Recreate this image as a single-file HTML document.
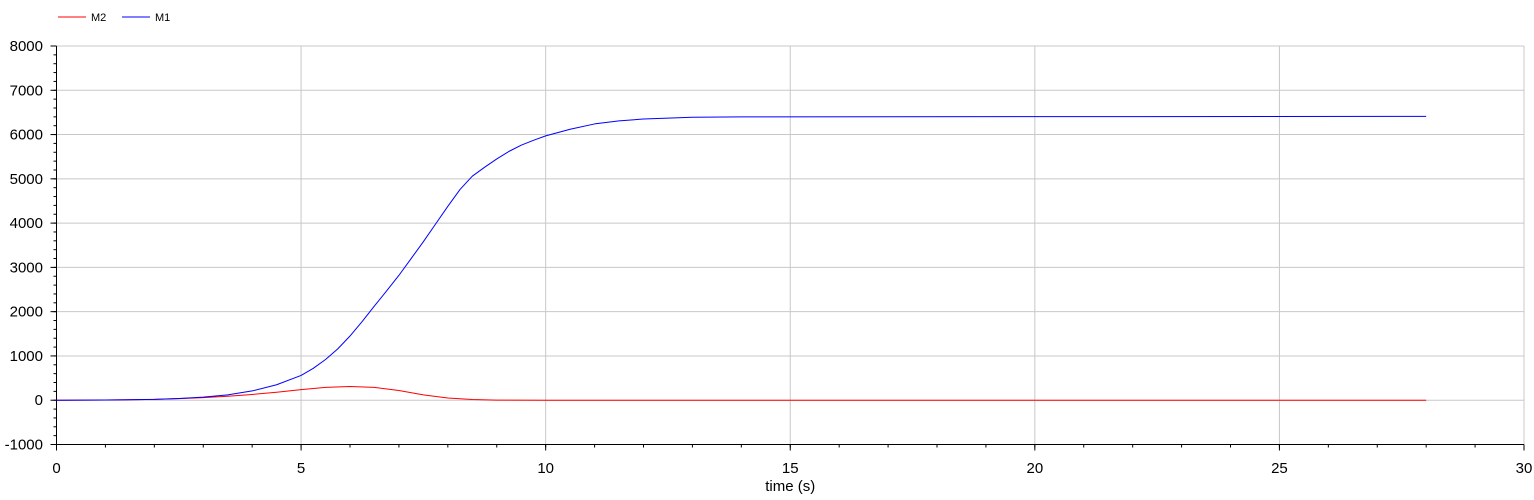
<!DOCTYPE html>
<html><head><meta charset="utf-8"><style>
body{margin:0;background:#fff;width:1534px;height:495px;overflow:hidden;font-family:"Liberation Sans",sans-serif}
svg text{font-family:"Liberation Sans",sans-serif;font-size:15px;fill:#000}
</style></head><body>
<svg id="c" width="1534" height="495"></svg>
<script>
const tM1=[0,1,2,2.5,3,3.5,4,4.5,5,5.25,5.5,5.75,6,6.25,6.5,6.75,7,7.25,7.5,7.75,8,8.25,8.5,8.75,9,9.25,9.5,9.75,10,10.5,11,11.5,12,13,14,28];
const vM1=[0,5,20,40,70,120,210,350,560,720,920,1160,1450,1780,2130,2470,2820,3200,3580,3980,4380,4760,5060,5260,5450,5620,5760,5870,5970,6120,6240,6310,6350,6390,6400,6410];
const tM2=[0,1,2,2.5,3,3.5,4,4.5,5,5.5,6,6.5,7,7.5,8,8.5,9,10,28];
const vM2=[0,5,20,35,60,90,130,180,240,290,310,290,220,120,50,15,3,0,0];
const xTicks=[0,5,10,15,20,25,30];
const yTicks=[-1000,0,1000,2000,3000,4000,5000,6000,7000,8000];
const NS="http://www.w3.org/2000/svg",svg=document.getElementById('c');
const X0=56.5,X1=1524,Y0=444.5,Y1=46;
const xs=t=>X0+(t-0)/30*(X1-X0), ys=v=>Y0-(v+1000)/9000*(Y0-Y1);
function mk(tag,a,p){const e=document.createElementNS(NS,tag);for(const k in a)e.setAttribute(k,a[k]);(p||svg).appendChild(e);return e;}
const grid=mk('g',{});


xTicks.forEach(t=>{if(t>0)mk('line',{x1:xs(t),x2:xs(t),y1:Y1,y2:Y0,stroke:'#c8c8c8'},grid);
 const l=mk('text',{x:xs(t),y:473,'text-anchor':'middle'});l.textContent=t;
 
 
 mk('line',{x1:xs(t),x2:xs(t),y1:Y0,y2:Y0+6,stroke:'#000'});});
for(let t=0;t<=30;t++)mk('line',{x1:xs(t),x2:xs(t),y1:Y0,y2:Y0+3,stroke:'#000'});
yTicks.forEach(v=>{if(v>-1000)mk('line',{x1:X0,x2:X1,y1:ys(v),y2:ys(v),stroke:'#c8c8c8'},grid);
 const l=mk('text',{x:43,y:ys(v)+5,'text-anchor':'end'});l.textContent=v;
 
 
 mk('line',{x1:X0-6,x2:X0,y1:ys(v),y2:ys(v),stroke:'#000'});});
for(let v=-1000;v<=8000;v+=200)mk('line',{x1:X0-3,x2:X0,y1:ys(v),y2:ys(v),stroke:'#000'});
const ax=mk('path',{d:`M${X0},${Y1}V${Y0}H${X1}`,fill:'none',stroke:'#000'});


function line(ts,vs,c,n){const p=mk('polyline',{points:ts.map((t,i)=>xs(t)+','+ys(vs[i])).join(' '),fill:'none',stroke:c,'stroke-linejoin':'round'});
 
 }
line(tM2,vM2,'#f00','series-m2');
line(tM1,vM1,'#00f','series-m1');
const xt=mk('text',{x:(X0+X1)/2,y:491,'text-anchor':'middle'});xt.textContent='time (s)';


[['M2','#f00',58],['M1','#00f',122]].forEach(([n,c,x])=>{const g=mk('g',{});
 
 
 mk('line',{x1:x,x2:x+28,y1:17,y2:17,stroke:c},g);
 const t=mk('text',{x:x+33,y:21,style:'font-size:11px'},g);t.textContent=n;});
</script>
</body></html>
